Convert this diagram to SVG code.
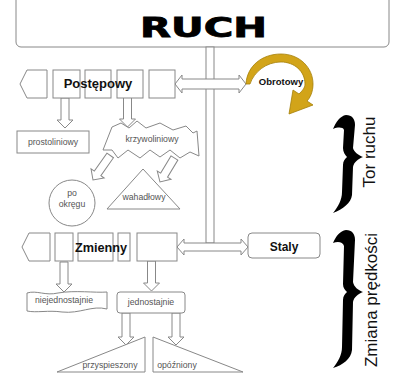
<svg xmlns="http://www.w3.org/2000/svg" xmlns:xlink="http://www.w3.org/1999/xlink" width="398" height="381" viewBox="0 0 398 381">
<style>
.box{fill:#fff;stroke:#888;stroke-width:1}
.lbl{font-family:"Liberation Sans",Arial,sans-serif;font-size:8.7px;fill:#555;text-anchor:middle}
.bold{font-family:"Liberation Sans",Arial,sans-serif;font-weight:bold;fill:#111;text-anchor:middle}
.side{font-family:"Liberation Sans",Arial,sans-serif;font-size:17px;fill:#111;text-anchor:middle}
.brace{fill:#000}
</style>
<defs>
<path id="dn30" class="box" d="M-4,-30 L4,-30 L4,-8 L8,-8 L0,0 L-8,-8 L-4,-8 Z"/>
<path id="dn32" class="box" d="M-4,-32 L4,-32 L4,-8 L8,-8 L0,0 L-8,-8 L-4,-8 Z"/>
<path id="dn28" class="box" d="M-4,-28 L4,-28 L4,-8 L8,-8 L0,0 L-8,-8 L-4,-8 Z"/>
</defs>
<rect x="0" y="0" width="398" height="381" fill="#fff"/>

<g id="title">
<rect class="box" x="16" y="-6" width="373" height="53" rx="5"/>
<text x="203.5" y="37" font-family="'DejaVu Sans',sans-serif" font-weight="900" font-size="26" text-anchor="middle" textLength="127" lengthAdjust="spacingAndGlyphs" fill="#000" stroke="#000" stroke-width="0.8">RUCH</text>
</g>

<g id="connectors">
<rect class="box" x="206" y="47" width="8" height="196"/>
<path class="box" d="M175,84 L182,75 L182,79 L239,79 L239,75 L246,84 L239,93 L239,89 L182,89 L182,93 Z"/>
<path class="box" d="M177,247 L184,239 L184,243 L241,243 L241,239 L248,247 L241,255 L241,251 L184,251 L184,255 Z"/>
<use xlink:href="#dn30" transform="translate(65,128)"/>
<use xlink:href="#dn30" transform="translate(127.5,127)"/>
<use xlink:href="#dn30" transform="translate(93,180) rotate(35)"/>
<use xlink:href="#dn28" transform="translate(160,182) rotate(31)"/>
<use xlink:href="#dn30" transform="translate(64,292)"/>
<use xlink:href="#dn30" transform="translate(151.5,291)"/>
<use xlink:href="#dn32" transform="translate(126,345)"/>
<use xlink:href="#dn32" transform="translate(176,345)"/>
</g>

<g id="postepowy">
<path class="box" d="M27,70 L47,70 L47,98 L27,98 L20,84 Z"/>
<rect class="box" x="53" y="70" width="27" height="28"/>
<rect class="box" x="85" y="70" width="26" height="28"/>
<rect class="box" x="117" y="70" width="26" height="28"/>
<rect class="box" x="149" y="70" width="26" height="28"/>
<text class="bold" x="98" y="88" font-size="13">Postępowy</text>
</g>

<g id="prostoliniowy">
<rect class="box" x="17" y="131" width="72" height="22"/>
<text class="lbl" x="53" y="145">prostoliniowy</text>
</g>

<g id="krzywoliniowy">
<path class="box" d="M103,150 L112,127 L121,123 L129,128 L137,121 L146,128 L160,123 L173,130 L186,126 L193,133 L197,131 L199,156 L190,152 L180,158 L170,150 L160,157 L150,150 L140,158 L128,150 L118,158 L112,150 Z"/>
<text class="lbl" x="152" y="142">krzywoliniowy</text>
</g>

<g id="po-okregu">
<circle class="box" cx="72" cy="203" r="23"/>
<text class="lbl" x="72" y="196">po</text>
<text class="lbl" x="72" y="207">okręgu</text>
</g>

<g id="wahadlowy">
<path class="box" d="M143,169 L180,209 L107,209 Z"/>
<text class="lbl" x="144" y="200">wahadłowy</text>
</g>

<g id="obrotowy">
<path d="M246,84 C247,66 262,54 281,54 C300,54 313,68 313,84 C313,92 310,98 307,101 L313,105 L289,114 L293,90 L299,94 C302,91 305,88 305,84 C305,71 294,62 281,62 C266,62 254,72 250,84 Z" fill="#D2A419" stroke="#A57F08" stroke-width="0.8"/>
<text class="bold" x="281" y="85" font-size="9.5" fill="#333">Obrotowy</text>
</g>

<g id="zmienny">
<path class="box" d="M29,233 L50,233 L50,261 L29,261 L22,247 Z"/>
<rect class="box" x="55" y="233" width="18" height="28"/>
<rect class="box" x="78" y="233" width="35" height="28"/>
<rect class="box" x="118" y="233" width="12" height="28"/>
<rect class="box" x="137" y="233" width="40" height="28"/>
<text class="bold" x="101" y="252" font-size="12.7">Zmienny</text>
</g>

<g id="staly">
<rect class="box" x="248" y="233" width="72" height="25" rx="4"/>
<text class="bold" x="284" y="251" font-size="12">Staly</text>
</g>

<g id="niejednostajnie">
<path class="box" d="M27,293 C37,290 45,296 58,293 C75,290 95,293 107,292 L107,309 C92,305 80,314 62,312 C48,310 37,313 27,311 Z"/>
<text class="lbl" x="64" y="303">niejednostajnie</text>
</g>

<g id="jednostajnie">
<rect class="box" x="117" y="292" width="68" height="21" rx="3"/>
<text class="lbl" x="151" y="305">jednostajnie</text>
</g>

<g id="przyspieszony">
<path class="box" d="M57,372 L145,372 L145,337 Z"/>
<text class="lbl" x="110" y="368">przyspieszony</text>
</g>

<g id="opozniony">
<path class="box" d="M153,337 L153,372 L243,372 Z"/>
<text class="lbl" x="177" y="368">opóźniony</text>
</g>

<g id="tor-ruchu">
<path class="brace" d="M333,129 C336,122 340,116 346,115 C352,115 355,119 355,125 L353,148 C354,152 358,155 363,157 C358,159 354,162 353,167 L352,195 C351,203 343,209 333,213 C338,207 342,200 342,192 L343,165 C343,161 345,159 347,157 C345,155 343,152 343,148 L344,130 C343,127 338,127 333,129 Z"/>
<text class="side" x="0" y="0" transform="translate(375,152) rotate(-90)">Tor ruchu</text>
</g>

<g id="zmiana-predkosci">
<path class="brace" d="M333,243 C336,236 340,231 346,230 C352,230 355,234 355,240 L353,282 C354,287 358,290 363,292 C358,294 354,297 353,302 L352,350 C351,359 343,365 333,368 C338,362 342,355 342,347 L343,300 C343,296 345,294 347,292 C345,290 343,288 343,284 L344,246 C343,242 338,241 333,243 Z"/>
<text class="side" x="0" y="0" transform="translate(377,300) rotate(-90)">Zmiana prędkości</text>
</g>
</svg>
